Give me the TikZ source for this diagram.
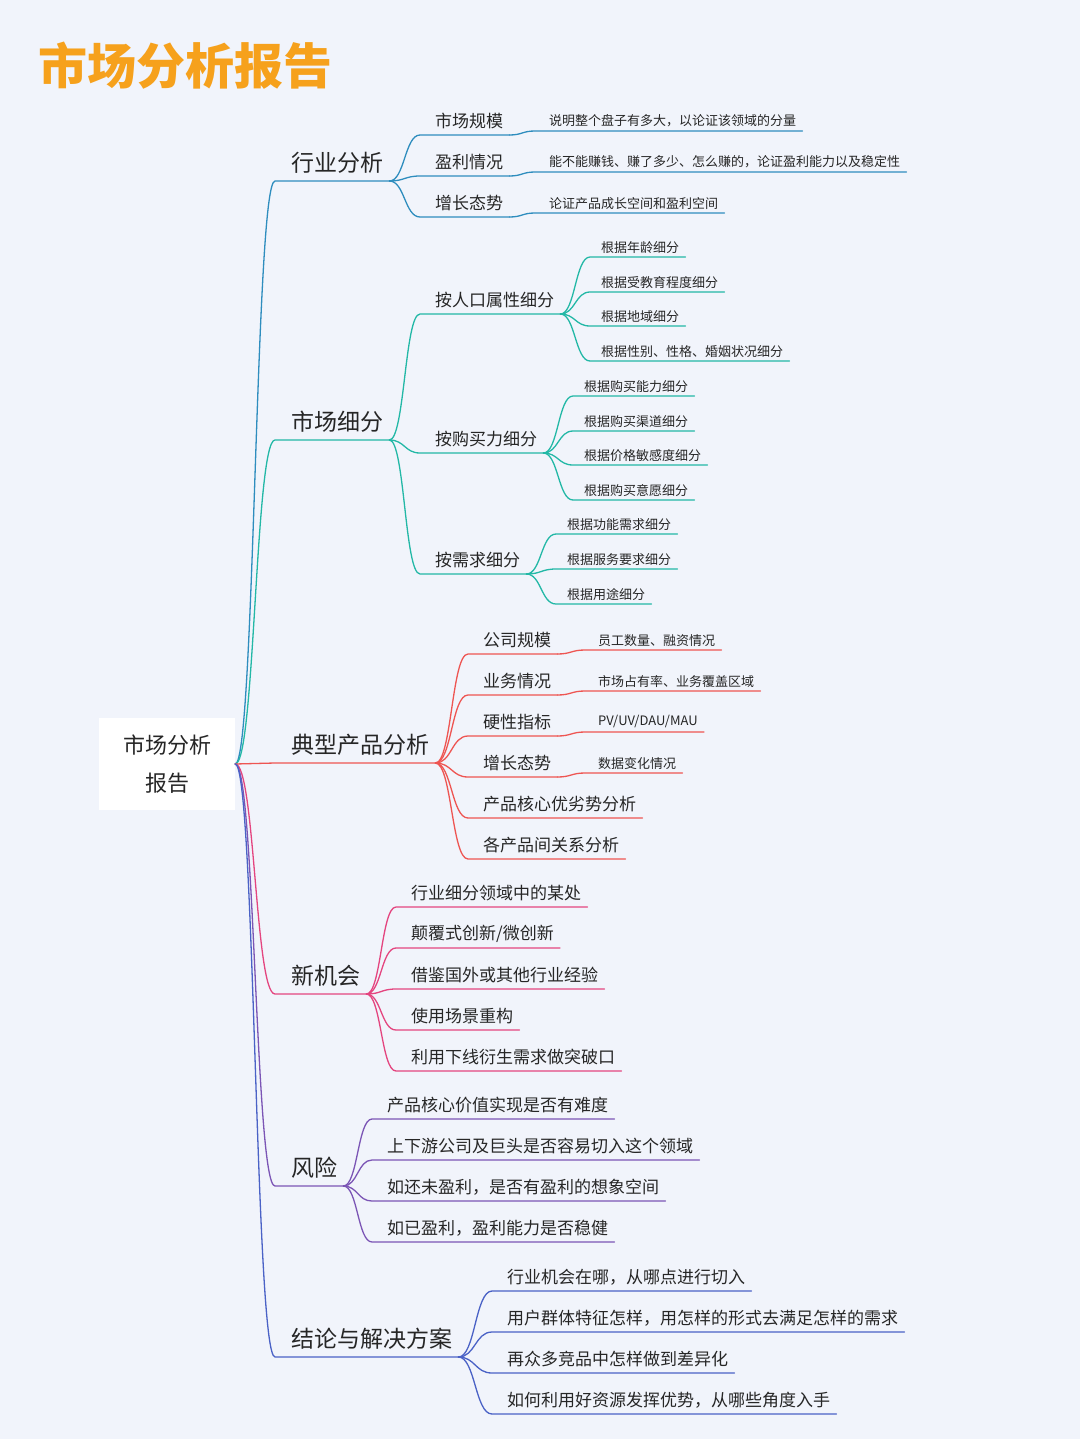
\documentclass[tikz,border=0pt]{standalone}
\usepackage{fontspec}
\setmainfont{Noto Sans CJK SC}
\usetikzlibrary{calc}
\definecolor{bgc}{HTML}{F1F4FB}
\definecolor{cA}{HTML}{2E8DBE}
\definecolor{cB}{HTML}{23B8A6}
\definecolor{cC}{HTML}{EE5552}
\definecolor{cD}{HTML}{E4457F}
\definecolor{cE}{HTML}{7B55B5}
\definecolor{cF}{HTML}{4A62C6}
\definecolor{ttl}{HTML}{F6A11C}
\definecolor{txt}{HTML}{262626}
\tikzset{
 lvA/.style={anchor=south west,inner xsep=0pt,inner ysep=7pt,font=\fontsize{23}{25}\selectfont,text=txt},
 lvB/.style={anchor=south west,inner xsep=0pt,inner ysep=5.5pt,font=\fontsize{17}{19}\selectfont,text=txt},
 lvC/.style={anchor=south west,inner xsep=0pt,inner ysep=3.5pt,font=\fontsize{13}{15}\selectfont,text=txt},
 ln/.style={line width=1.3pt,line cap=round}
}
\newcommand\nd[6]{\node[#4] (#1) at (#2,#3) {\hspace*{#5pt}#6\hspace*{6pt}};}
\newcommand\cn[3]{\draw[ln,#1] let \p1=(#2.south east), \p2=(#3.south west) in (\p1) .. controls ({(\x1+\x2)/2},\y1) and ({(\x1+\x2)/2},\y2) .. (\p2) -- (#3.south east);}
\newcommand\rc[2]{\draw[ln,#1] let \p1=(root.east), \p2=(#2.south west) in (\p1) .. controls ({(\x1+\x2)/2},\y1) and ({(\x1+\x2)/2},\y2) .. (\p2) -- (#2.south east);}
\begin{document}
\begin{tikzpicture}[x=1pt,y=-1pt]
\fill[bgc] (0,0) rectangle (1080,1439);
\useasboundingbox (0,0) rectangle (1080,1439);
\node[anchor=west,text=ttl,font=\fontsize{49}{52}\selectfont\bfseries] (title) at (35,66) {市场分析报告};
\node[fill=white,minimum width=136pt,minimum height=92pt,align=center,font=\fontsize{22}{38}\selectfont,text=txt] (root) at (167,764) {市场分析\\报告};
% level 1
\nd{A}{275}{181}{lvA}{16}{行业分析}
\nd{B}{275}{440}{lvA}{16}{市场细分}
\nd{C}{275}{763}{lvA}{16}{典型产品分析}
\nd{D}{275}{994}{lvA}{16}{新机会}
\nd{E}{275}{1186}{lvA}{16}{风险}
\nd{F}{275}{1357}{lvA}{16}{结论与解决方案}
\rc{cA}{A}\rc{cB}{B}\rc{cC}{C}\rc{cD}{D}\rc{cE}{E}\rc{cF}{F}
% A
\nd{A1}{420}{135}{lvB}{15}{市场规模}
\nd{A2}{420}{176}{lvB}{15}{盈利情况}
\nd{A3}{420}{217}{lvB}{15}{增长态势}
\foreach \k in {A1,A2,A3}{\cn{cA}{A}{\k}}
\nd{A1a}{535}{131}{lvC}{14}{说明整个盘子有多大，以论证该领域的分量}
\nd{A2a}{535}{172}{lvC}{14}{能不能赚钱、赚了多少、怎么赚的，论证盈利能力以及稳定性}
\nd{A3a}{535}{213}{lvC}{14}{论证产品成长空间和盈利空间}
\cn{cA}{A1}{A1a}\cn{cA}{A2}{A2a}\cn{cA}{A3}{A3a}
% B
\nd{B1}{420}{314}{lvB}{15}{按人口属性细分}
\nd{B2}{420}{453}{lvB}{15}{按购买力细分}
\nd{B3}{420}{574}{lvB}{15}{按需求细分}
\foreach \k in {B1,B2,B3}{\cn{cB}{B}{\k}}
\nd{B1a}{590}{257}{lvC}{11}{根据年龄细分}
\nd{B1b}{590}{292}{lvC}{11}{根据受教育程度细分}
\nd{B1c}{590}{326}{lvC}{11}{根据地域细分}
\nd{B1d}{590}{361}{lvC}{11}{根据性别、性格、婚姻状况细分}
\foreach \k in {B1a,B1b,B1c,B1d}{\cn{cB}{B1}{\k}}
\nd{B2a}{573}{396}{lvC}{11}{根据购买能力细分}
\nd{B2b}{573}{431}{lvC}{11}{根据购买渠道细分}
\nd{B2c}{573}{465}{lvC}{11}{根据价格敏感度细分}
\nd{B2d}{573}{500}{lvC}{11}{根据购买意愿细分}
\foreach \k in {B2a,B2b,B2c,B2d}{\cn{cB}{B2}{\k}}
\nd{B3a}{556}{534}{lvC}{11}{根据功能需求细分}
\nd{B3b}{556}{569}{lvC}{11}{根据服务要求细分}
\nd{B3c}{556}{604}{lvC}{11}{根据用途细分}
\foreach \k in {B3a,B3b,B3c}{\cn{cB}{B3}{\k}}
% C
\nd{C1}{468}{654}{lvB}{15}{公司规模}
\nd{C2}{468}{695}{lvB}{15}{业务情况}
\nd{C3}{468}{736}{lvB}{15}{硬性指标}
\nd{C4}{468}{777}{lvB}{15}{增长态势}
\nd{C5}{468}{818}{lvB}{15}{产品核心优劣势分析}
\nd{C6}{468}{859}{lvB}{15}{各产品间关系分析}
\foreach \k in {C1,C2,C3,C4,C5,C6}{\cn{cC}{C}{\k}}
\nd{C1a}{585}{650}{lvC}{13}{员工数量、融资情况}
\nd{C2a}{585}{691}{lvC}{13}{市场占有率、业务覆盖区域}
\nd{C3a}{585}{732}{lvC}{13}{PV/UV/DAU/MAU}
\nd{C4a}{585}{773}{lvC}{13}{数据变化情况}
\cn{cC}{C1}{C1a}\cn{cC}{C2}{C2a}\cn{cC}{C3}{C3a}\cn{cC}{C4}{C4a}
% D
\nd{D1}{396}{907}{lvB}{15}{行业细分领域中的某处}
\nd{D2}{396}{948}{lvB}{15}{颠覆式创新/微创新}
\nd{D3}{396}{989}{lvB}{15}{借鉴国外或其他行业经验}
\nd{D4}{396}{1030}{lvB}{15}{使用场景重构}
\nd{D5}{396}{1071}{lvB}{15}{利用下线衍生需求做突破口}
\foreach \k in {D1,D2,D3,D4,D5}{\cn{cD}{D}{\k}}
% E
\nd{E1}{372}{1119}{lvB}{15}{产品核心价值实现是否有难度}
\nd{E2}{372}{1160}{lvB}{15}{上下游公司及巨头是否容易切入这个领域}
\nd{E3}{372}{1201}{lvB}{15}{如还未盈利，是否有盈利的想象空间}
\nd{E4}{372}{1242}{lvB}{15}{如已盈利，盈利能力是否稳健}
\foreach \k in {E1,E2,E3,E4}{\cn{cE}{E}{\k}}
% F
\nd{F1}{492}{1291}{lvB}{15}{行业机会在哪，从哪点进行切入}
\nd{F2}{492}{1332}{lvB}{15}{用户群体特征怎样，用怎样的形式去满足怎样的需求}
\nd{F3}{492}{1373}{lvB}{15}{再众多竞品中怎样做到差异化}
\nd{F4}{492}{1414}{lvB}{15}{如何利用好资源发挥优势，从哪些角度入手}
\foreach \k in {F1,F2,F3,F4}{\cn{cF}{F}{\k}}
\end{tikzpicture}
\end{document}
